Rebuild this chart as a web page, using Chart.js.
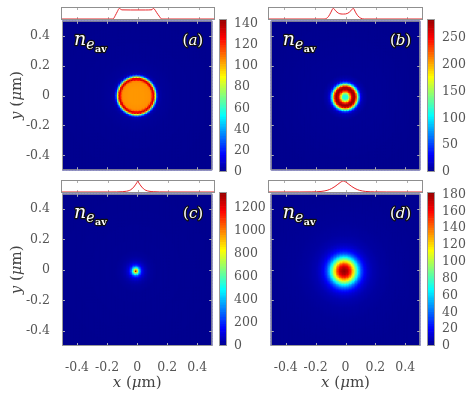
<!DOCTYPE html>
<html>
<head>
<meta charset="utf-8">
<script src="https://cdn.jsdelivr.net/npm/chart.js@4.4.1/dist/chart.umd.min.js"></script>
<style>
body { margin: 0; background: #fff; width: 469px; height: 396px; position: relative; overflow: hidden; }
canvas { position: absolute; }
</style>
</head>
<body>
<script>
// axis ticks (µm)
const xTicks = [-0.4, -0.2, 0, 0.2, 0.4];
const yTicks = [-0.4, -0.2, 0, 0.2, 0.4];

// radial density profiles n_e_av(r), r in µm
const radiusA = [0, 0.05, 0.09, 0.100, 0.106, 0.112, 0.118, 0.123, 0.128, 0.132, 0.136, 0.142, 0.15, 0.17, 0.25, 0.5];
const densA   = [104, 104, 105, 108, 125, 138, 125, 98, 70, 45, 25, 10, 4, 1.5, 0.5, 0];
const radiusB = [0, 0.016, 0.025, 0.033, 0.041, 0.049, 0.057, 0.064, 0.071, 0.077, 0.083, 0.089, 0.095, 0.101, 0.108, 0.12, 0.15, 0.5];
const densB   = [112, 116, 150, 200, 245, 272, 283, 278, 250, 205, 150, 105, 65, 38, 18, 8, 2, 0];
const radiusC = [0, 0.005, 0.01, 0.015, 0.02, 0.026, 0.033, 0.041, 0.05, 0.062, 0.078, 0.1, 0.14, 0.5];
const densC   = [1320, 1150, 880, 660, 520, 380, 250, 160, 100, 60, 32, 15, 5, 0];
const radiusD = [0, 0.02, 0.035, 0.05, 0.062, 0.074, 0.086, 0.098, 0.11, 0.125, 0.14, 0.16, 0.19, 0.24, 0.32, 0.5];
const densD   = [182, 176, 162, 140, 118, 96, 75, 56, 40, 27, 18, 11, 6, 3, 1.5, 0.5];

// spot centres (µm)
const centreX = [0, 0.002, -0.005, -0.005];
const centreY = [0, -0.008, -0.005, -0.005];

// normalised cuts shown in the strips above the maps
const cutXA = [-0.5, -0.165, -0.15, -0.135, -0.123, -0.115, -0.105, -0.05, 0, 0.05, 0.092, 0.1, 0.108, 0.122, 0.14, 0.156, 0.5];
const cutA  = [0, 0, 0.3, 0.7, 0.97, 0.9, 0.83, 0.82, 0.82, 0.82, 0.84, 0.97, 0.9, 0.6, 0.25, 0, 0];
const cutXB = [-0.5, -0.14, -0.125, -0.11, -0.095, -0.08, -0.065, -0.045, -0.014, 0.015, 0.035, 0.051, 0.065, 0.08, 0.1, 0.125, 0.5];
const cutB  = [0, 0, 0.05, 0.25, 0.62, 0.97, 0.75, 0.52, 0.45, 0.52, 0.75, 0.97, 0.62, 0.3, 0.07, 0, 0];
const cutXC = [-0.5, -0.2, -0.14, -0.1, -0.075, -0.055, -0.04, -0.028, -0.017, -0.008, -0.002, 0.005, 0.014, 0.025, 0.037, 0.052, 0.072, 0.1, 0.14, 0.2, 0.5];
const cutC  = [0, 0.003, 0.01, 0.03, 0.07, 0.15, 0.28, 0.45, 0.65, 0.84, 1.0, 0.84, 0.65, 0.45, 0.28, 0.15, 0.07, 0.03, 0.01, 0.003, 0];
const cutXD = [-0.5, -0.3, -0.22, -0.16, -0.12, -0.09, -0.069, -0.05, -0.035, -0.014, 0.007, 0.022, 0.041, 0.062, 0.092, 0.132, 0.19, 0.27, 0.5];
const cutD  = [0, 0.005, 0.015, 0.05, 0.15, 0.32, 0.5, 0.7, 0.86, 1.0, 0.86, 0.7, 0.5, 0.32, 0.15, 0.05, 0.015, 0.005, 0];

// colour bar ranges and ticks
const cbarMax = [144, 285, 1333, 183];
const cbarTicksA = [0, 20, 40, 60, 80, 100, 120, 140];
const cbarTicksB = [0, 50, 100, 150, 200, 250];
const cbarTicksC = [0, 200, 400, 600, 800, 1000, 1200];
const cbarTicksD = [0, 20, 40, 60, 80, 100, 120, 140, 160, 180];

const tickFont = { family: 'DejaVu Serif', size: 12.5 };
const tickColor = '#555';
const gridN = 100;

// matlab-like jet colormap
const jetKnots = [0, 7 / 63, 23 / 63, 39 / 63, 55 / 63, 1];
const jetRGB = [[0, 0, 0.5625], [0, 0, 1], [0, 1, 1], [1, 1, 0], [1, 0, 0], [0.5625, 0, 0]];
function jet(t) {
    t = Math.max(0, Math.min(1, t));
    let i = 0;
    while (i < jetKnots.length - 2 && t > jetKnots[i + 1]) i++;
    const f = (t - jetKnots[i]) / (jetKnots[i + 1] - jetKnots[i]);
    const c = jetRGB[i].map((a, k) => Math.round(255 * (a + (jetRGB[i + 1][k] - a) * f)));
    return `rgb(${c[0]},${c[1]},${c[2]})`;
}

function lookup(rs, vs, r) {
    if (r >= rs[rs.length - 1]) return vs[vs.length - 1];
    let i = 0;
    while (r > rs[i + 1]) i++;
    const f = (r - rs[i]) / (rs[i + 1] - rs[i]);
    return vs[i] + (vs[i + 1] - vs[i]) * f;
}

const fmtTick = v => v === 0 ? '0' : v.toFixed(1);

// kill the extra room Chart.js keeps for overhanging tick labels
function noPad(s) {
    s.paddingLeft = 0; s.paddingRight = 0; s.paddingTop = 0; s.paddingBottom = 0;
}

const panels = [
    { tag: 'a', r: radiusA, n: densA, cutX: cutXA, cut: cutA, cticks: cbarTicksA,
      box: { l: 62, t: 19, w: 152, h: 153 }, strip: { t: 8, h: 11 }, cbL: 219, showX: false, showY: true },
    { tag: 'b', r: radiusB, n: densB, cutX: cutXB, cut: cutB, cticks: cbarTicksB,
      box: { l: 269, t: 19, w: 153, h: 153 }, strip: { t: 8, h: 11 }, cbL: 427, showX: false, showY: false },
    { tag: 'c', r: radiusC, n: densC, cutX: cutXC, cut: cutC, cticks: cbarTicksC,
      box: { l: 62, t: 192, w: 152, h: 154 }, strip: { t: 181, h: 11 }, cbL: 219, showX: true, showY: true },
    { tag: 'd', r: radiusD, n: densD, cutX: cutXD, cut: cutD, cticks: cbarTicksD,
      box: { l: 269, t: 192, w: 153, h: 154 }, strip: { t: 181, h: 11 }, cbL: 427, showX: true, showY: false }
];
panels.forEach((p, i) => { p.cx = centreX[i]; p.cy = centreY[i]; p.cmax = cbarMax[i]; });

function addCanvas(l, t, w, h) {
    const c = document.createElement('canvas');
    c.width = w; c.height = h;
    c.style.left = l + 'px'; c.style.top = t + 'px';
    c.style.width = w + 'px'; c.style.height = h + 'px';
    document.body.appendChild(c);
    return c;
}

// text made of pieces with different fonts (italic math letters)
function drawRich(ctx, parts, cx, cy, rotate) {
    ctx.save();
    ctx.translate(cx, cy);
    if (rotate) ctx.rotate(-Math.PI / 2);
    let total = 0;
    parts.forEach(p => { ctx.font = p[1]; total += ctx.measureText(p[0]).width; });
    let x = -total / 2;
    ctx.textBaseline = 'middle';
    ctx.fillStyle = '#444';
    parts.forEach(p => { ctx.font = p[1]; ctx.fillText(p[0], x, 0); x += ctx.measureText(p[0]).width; });
    ctx.restore();
}

function outlined(ctx, text, x, y, font) {
    ctx.font = font;
    ctx.lineJoin = 'round';
    ctx.lineWidth = 2.4;
    ctx.strokeStyle = '#111';
    ctx.strokeText(text, x, y);
    ctx.fillStyle = '#fff';
    ctx.fillText(text, x, y);
    return ctx.measureText(text).width;
}

const titleParts = letter => [[letter, 'italic 15px "DejaVu Serif"'], [' (', '15px "DejaVu Serif"'],
    ['μ', 'italic 15px "DejaVu Serif"'], ['m)', '15px "DejaVu Serif"']];

function heatDecor(p) {
    return {
        id: 'heatDecor' + p.tag,
        beforeDatasetsDraw(chart) {
            // zero-density background under the cells
            const ctx = chart.ctx, a = chart.chartArea;
            ctx.save();
            ctx.fillStyle = jet(0);
            ctx.fillRect(a.left, a.top, a.right - a.left, a.bottom - a.top);
            ctx.restore();
        },
        afterDatasetsDraw(chart) {
            const ctx = chart.ctx, a = chart.chartArea;
            const xs = chart.scales.x, ys = chart.scales.y;
            ctx.save();
            ctx.strokeStyle = 'rgba(190,190,190,0.9)';
            ctx.lineWidth = 1;
            ctx.beginPath();
            xTicks.forEach(v => {
                const x = Math.round(xs.getPixelForValue(v)) + 0.5;
                ctx.moveTo(x, a.bottom); ctx.lineTo(x, a.bottom - 3);
                ctx.moveTo(x, a.top); ctx.lineTo(x, a.top + 3);
            });
            yTicks.forEach(v => {
                const y = Math.round(ys.getPixelForValue(v)) + 0.5;
                ctx.moveTo(a.left, y); ctx.lineTo(a.left + 3, y);
                ctx.moveTo(a.right, y); ctx.lineTo(a.right - 3, y);
            });
            ctx.stroke();
            ctx.strokeStyle = '#9a9a9a';
            ctx.strokeRect(a.left + 0.5, a.top + 0.5, a.right - a.left - 1, a.bottom - a.top - 1);

            // n_e_av label
            ctx.textBaseline = 'alphabetic';
            let x = a.left + 12;
            const base = a.top + 24;
            x += outlined(ctx, 'n', x, base, 'italic 19px "DejaVu Serif"');
            x += outlined(ctx, 'e', x, base + 4, 'italic 14px "DejaVu Serif"');
            outlined(ctx, 'av', x + 0.5, base + 7, 'bold 9.5px "DejaVu Serif"');

            // panel tag
            const parts = [['(', '15px "DejaVu Serif"'], [p.tag, 'italic 15px "DejaVu Serif"'], [')', '15px "DejaVu Serif"']];
            let tw = 0;
            parts.forEach(q => { ctx.font = q[1]; tw += ctx.measureText(q[0]).width; });
            let tx = a.right - 9 - tw;
            parts.forEach(q => { tx += outlined(ctx, q[0], tx, base, q[1]); });
            ctx.restore();
        },
        afterDraw(chart) {
            const ctx = chart.ctx, a = chart.chartArea;
            if (p.showY) drawRich(ctx, titleParts('y'), 17, (a.top + a.bottom) / 2, true);
            if (p.showX) drawRich(ctx, titleParts('x'), (a.left + a.right) / 2, 383 - p.box.t, false);
        }
    };
}

function drawHeat(p) {
    const b = p.box;
    const left = p.showY ? 0 : b.l;
    const cv = addCanvas(left, b.t, b.l + b.w - left, b.h + (p.showX ? 50 : 0));
    const pts = [], cols = [];
    for (let i = 0; i < gridN; i++) {
        for (let j = 0; j < gridN; j++) {
            const x = -0.5 + (i + 0.5) / gridN;
            const y = -0.5 + (j + 0.5) / gridN;
            const v = lookup(p.r, p.n, Math.hypot(x - p.cx, y - p.cy));
            pts.push({ x: x, y: y });
            cols.push(jet(v / p.cmax));
        }
    }
    // square side = cell pitch + 1px so neighbouring cells leave no seams
    const cellR = (b.w / gridN + 1) * 0.5 / Math.SQRT1_2;
    new Chart(cv, {
        type: 'scatter',
        data: {
            datasets: [{
                data: pts,
                pointBackgroundColor: cols,
                pointStyle: 'rect',
                pointRadius: cellR,
                pointHoverRadius: cellR,
                pointBorderWidth: 0,
                clip: 0
            }]
        },
        options: {
            responsive: false,
            animation: false,
            events: [],
            devicePixelRatio: 1,
            layout: { padding: 0 },
            plugins: { legend: { display: false }, tooltip: { enabled: false } },
            scales: {
                x: {
                    type: 'linear', min: -0.5, max: 0.5, display: p.showX,
                    grid: { display: false, drawTicks: false }, border: { display: false },
                    afterBuildTicks: s => { s.ticks = xTicks.map(v => ({ value: v })); },
                    afterFit: s => { noPad(s); s.height = p.showX ? 50 : 0; },
                    ticks: { font: tickFont, color: tickColor, padding: 14, maxRotation: 0, autoSkip: false, callback: fmtTick }
                },
                y: {
                    type: 'linear', min: -0.5, max: 0.5, display: p.showY,
                    grid: { display: false, drawTicks: false }, border: { display: false },
                    afterBuildTicks: s => { s.ticks = yTicks.map(v => ({ value: v })); },
                    afterFit: s => { noPad(s); s.width = p.showY ? b.l : 0; },
                    ticks: { font: tickFont, color: tickColor, padding: 12, autoSkip: false, callback: fmtTick }
                }
            }
        },
        plugins: [heatDecor(p)]
    });
}

function drawStrip(p) {
    const b = p.box, s = p.strip;
    const cv = addCanvas(b.l - 1, s.t - 1, b.w + 2, s.h + 2);
    new Chart(cv, {
        type: 'scatter',
        data: {
            datasets: [{
                data: p.cutX.map((x, i) => ({ x: x, y: p.cut[i] })),
                showLine: true,
                borderColor: '#e8262b',
                borderWidth: 1,
                pointRadius: 0,
                cubicInterpolationMode: 'monotone'
            }]
        },
        options: {
            responsive: false,
            animation: false,
            events: [],
            devicePixelRatio: 1,
            layout: { padding: 1 },
            plugins: { legend: { display: false }, tooltip: { enabled: false } },
            scales: {
                x: { type: 'linear', min: -0.5, max: 0.5, display: false },
                y: { type: 'linear', min: 0, max: 1, display: false }
            }
        },
        plugins: [{
            id: 'stripFrame' + p.tag,
            beforeDatasetsDraw(chart) {
                const ctx = chart.ctx, a = chart.chartArea, xs = chart.scales.x;
                ctx.save();
                ctx.fillStyle = '#fff';
                ctx.fillRect(a.left, a.top, a.right - a.left, a.bottom - a.top);
                ctx.strokeStyle = '#8f8f8f';
                ctx.lineWidth = 1;
                ctx.strokeRect(a.left - 0.5, a.top - 0.5, a.right - a.left + 1, a.bottom - a.top + 1);
                ctx.strokeStyle = '#b0b0b0';
                ctx.beginPath();
                xTicks.forEach(v => {
                    const x = Math.round(xs.getPixelForValue(v)) + 0.5;
                    ctx.moveTo(x, a.bottom); ctx.lineTo(x, a.bottom - 2);
                    ctx.moveTo(x, a.top); ctx.lineTo(x, a.top + 2);
                });
                ctx.stroke();
                ctx.restore();
            }
        }]
    });
}

function drawCbar(p) {
    const b = p.box;
    const cv = addCanvas(p.cbL, b.t - 10, 8 + 42, b.h + 20);
    const steps = 64;
    const datasets = [];
    for (let i = 0; i < steps; i++) {
        datasets.push({
            data: [p.cmax / steps],
            backgroundColor: jet((i + 0.5) / steps),
            borderWidth: 0,
            barPercentage: 1,
            categoryPercentage: 1
        });
    }
    new Chart(cv, {
        type: 'bar',
        data: { labels: [''], datasets: datasets },
        options: {
            responsive: false,
            animation: false,
            events: [],
            devicePixelRatio: 1,
            layout: { padding: { top: 10, bottom: 10, left: 0, right: 0 } },
            plugins: { legend: { display: false }, tooltip: { enabled: false } },
            scales: {
                x: { stacked: true, display: false, afterFit: s => { noPad(s); s.height = 0; } },
                y: {
                    stacked: true, position: 'right', min: 0, max: p.cmax,
                    grid: { display: false, drawTicks: false }, border: { display: false },
                    afterBuildTicks: s => { s.ticks = p.cticks.map(v => ({ value: v })); },
                    afterFit: s => { noPad(s); s.width = 42; },
                    ticks: { font: tickFont, color: tickColor, padding: 7, autoSkip: false, callback: v => String(v) }
                }
            }
        },
        plugins: [{
            id: 'cbarFrame' + p.tag,
            afterDatasetsDraw(chart) {
                const ctx = chart.ctx, a = chart.chartArea;
                ctx.save();
                ctx.strokeStyle = '#9a9a9a';
                ctx.lineWidth = 1;
                ctx.strokeRect(a.left + 0.5, a.top + 0.5, a.right - a.left - 1, a.bottom - a.top - 1);
                ctx.restore();
            }
        }]
    });
}

panels.forEach(p => {
    drawHeat(p);
    drawCbar(p);
    drawStrip(p);
});
</script>
</body>
</html>
